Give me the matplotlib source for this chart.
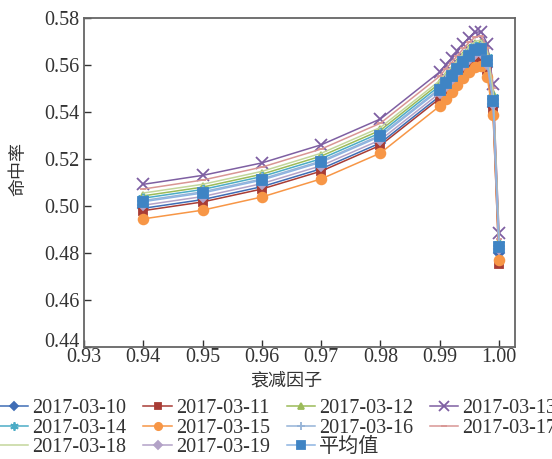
import matplotlib
matplotlib.use('Agg')
import matplotlib.pyplot as plt
from matplotlib.transforms import ScaledTranslation

plt.rcParams['font.family'] = ['Liberation Serif', 'Noto Sans CJK SC']

# decay factor values (x axis)
x = [0.94, 0.95, 0.96, 0.97, 0.98, 0.99, 0.991, 0.992, 0.993, 0.994,
     0.995, 0.996, 0.997, 0.998, 0.999, 1.00]

# hit rate per day
d10 = [0.4990, 0.5027, 0.5082, 0.5158, 0.5268, 0.5467, 0.5498, 0.5525, 0.5555, 0.5585, 0.5612, 0.5634, 0.5638, 0.5590, 0.5420, 0.4800]
d11 = [0.4980, 0.5017, 0.5072, 0.5148, 0.5258, 0.5457, 0.5488, 0.5515, 0.5545, 0.5575, 0.5602, 0.5624, 0.5628, 0.5580, 0.5400, 0.4755]
d12 = [0.5043, 0.5080, 0.5135, 0.5212, 0.5322, 0.5522, 0.5554, 0.5580, 0.5610, 0.5640, 0.5668, 0.5690, 0.5695, 0.5646, 0.5476, 0.4845]
d13 = [0.5092, 0.5130, 0.5183, 0.5260, 0.5370, 0.5570, 0.5600, 0.5628, 0.5658, 0.5688, 0.5715, 0.5738, 0.5742, 0.5690, 0.5518, 0.4885]
d14 = [0.5033, 0.5070, 0.5125, 0.5201, 0.5311, 0.5511, 0.5542, 0.5569, 0.5599, 0.5629, 0.5657, 0.5679, 0.5683, 0.5634, 0.5465, 0.4838]
d15 = [0.4945, 0.4982, 0.5038, 0.5115, 0.5225, 0.5425, 0.5456, 0.5483, 0.5513, 0.5543, 0.5570, 0.5592, 0.5596, 0.5550, 0.5385, 0.4770]
d16 = [0.5023, 0.5060, 0.5115, 0.5191, 0.5301, 0.5500, 0.5531, 0.5558, 0.5588, 0.5618, 0.5646, 0.5668, 0.5672, 0.5623, 0.5453, 0.4830]
d17 = [0.5072, 0.5110, 0.5165, 0.5242, 0.5352, 0.5552, 0.5583, 0.5610, 0.5640, 0.5670, 0.5697, 0.5719, 0.5723, 0.5674, 0.5502, 0.4860]
d18 = [0.5055, 0.5092, 0.5147, 0.5224, 0.5334, 0.5533, 0.5565, 0.5591, 0.5621, 0.5651, 0.5679, 0.5701, 0.5705, 0.5657, 0.5487, 0.4850]
d19 = [0.5003, 0.5040, 0.5095, 0.5171, 0.5281, 0.5480, 0.5511, 0.5538, 0.5568, 0.5598, 0.5626, 0.5648, 0.5652, 0.5603, 0.5433, 0.4815]
mean = [0.5018, 0.5055, 0.5110, 0.5186, 0.5296, 0.5494, 0.5525, 0.5552, 0.5582, 0.5612, 0.5640, 0.5662, 0.5666, 0.5617, 0.5447, 0.4825]

labels = ['2017-03-10', '2017-03-11', '2017-03-12', '2017-03-13',
          '2017-03-14', '2017-03-15', '2017-03-16', '2017-03-17',
          '2017-03-18', '2017-03-19', '平均值']
series = [d10, d11, d12, d13, d14, d15, d16, d17, d18, d19, mean]

# (line colour, marker, marker colour, marker size)
styles = [
    ('#3F6DB5', 'D', '#3F6DB5', 5),
    ('#A83C35', 's', '#A83C35', 6),
    ('#9BBB59', '^', '#9BBB59', 6),
    ('#7E5FA2', 'x', '#7E5FA2', 9),
    ('#4BACC6', (6, 2, 0), '#4BACC6', 8),
    ('#F79646', 'o', '#F79646', 7),
    ('#95B3D7', '+', '#95B3D7', 8),
    ('#D99694', '_', '#D99694', 5),
    ('#C3D69B', 'None', '#C3D69B', 5),
    ('#B3A2C7', 'D', '#B3A2C7', 5),
    ('#8DB4E2', 's', '#3F84C4', 7),
]

fig = plt.figure(figsize=(5.52, 4.59), dpi=100)
ax = fig.add_axes([0.152, 0.244, 0.781, 0.717])

handles = []
for vals, lab, (lc, mk, mc, ms) in zip(series, labels, styles):
    h, = ax.plot(x, vals, color=lc, lw=1.1, marker=mk, markersize=ms,
                 markerfacecolor=mc, markeredgecolor=mc, markeredgewidth=1.3,
                 label=lab)
    handles.append(h)

ax.set_xlim(0.93, 1.0027)
ax.set_ylim(0.44, 0.58)
ax.set_xticks([0.93, 0.94, 0.95, 0.96, 0.97, 0.98, 0.99, 1.00])
ax.set_xticklabels(['0.93', '0.94', '0.95', '0.96', '0.97', '0.98', '0.99', '1.00'])
ax.set_yticks([0.44, 0.46, 0.48, 0.50, 0.52, 0.54, 0.56, 0.58])
ax.set_yticklabels(['0.44', '0.46', '0.48', '0.50', '0.52', '0.54', '0.56', '0.58'])
ax.tick_params(axis='both', direction='in', length=5, width=1, labelsize=14.5,
               colors='#333333', top=False, right=False)
ax.tick_params(axis='x', pad=1)
ax.tick_params(axis='y', pad=3)
for sp in ax.spines.values():
    sp.set_color('#666666')
    sp.set_linewidth(1.3)

# lowest y label sits a little above its tick, clear of the 0.93 label
low = ax.get_yticklabels()[0]
low.set_transform(low.get_transform() + ScaledTranslation(0, 5 / 72, fig.dpi_scale_trans))

ax.set_xlabel('衰减因子', fontsize=13, family=['Noto Sans CJK SC'], color='#333333')
ax.set_ylabel('命中率', fontsize=13, family=['Noto Sans CJK SC'], color='#333333')
ax.xaxis.set_label_coords(0.47, -0.075)
ax.yaxis.set_label_coords(-0.13, 0.54)

# legend is filled row by row in the reference
order = [0, 4, 8, 1, 5, 9, 2, 6, 10, 3, 7]
fig.legend([handles[i] for i in order], [labels[i] for i in order],
           loc='upper left', bbox_to_anchor=(0.0, 1 - 399 / 459), ncol=4,
           frameon=False, fontsize=14.5, handlelength=1.4, handletextpad=0.2,
           columnspacing=0.85, labelspacing=0.02, borderpad=0, borderaxespad=0,
           markerscale=0.75, labelcolor='#333333')

fig.savefig('out.png', dpi=100)
